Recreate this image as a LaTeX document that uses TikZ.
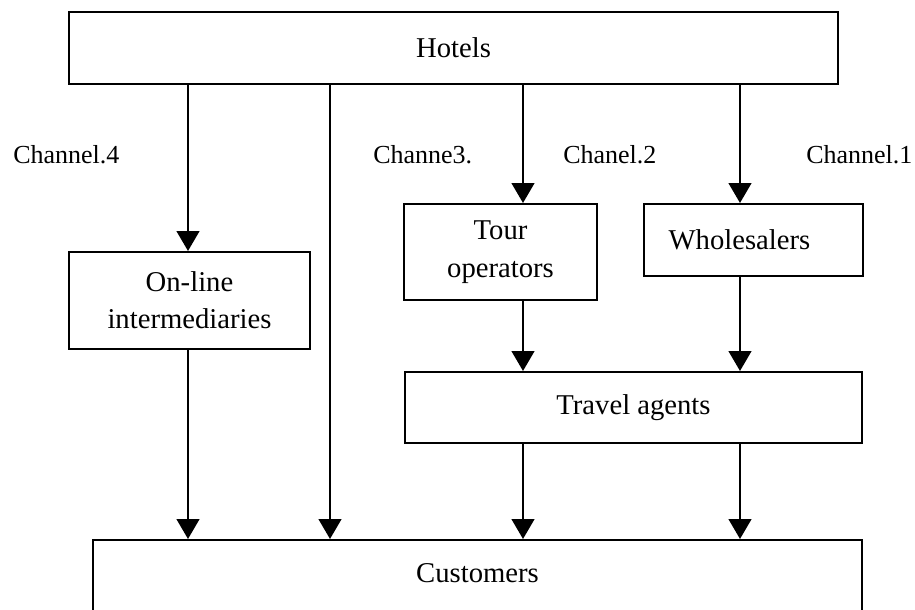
\documentclass[tikz,border=0pt]{standalone}
\usepackage{fontspec}
\setmainfont{Liberation Serif}
\usetikzlibrary{arrows.meta}
\begin{document}
\begin{tikzpicture}[x=0.75pt,y=-0.75pt,
  box/.style={draw=black, line width=1.5pt, inner sep=0pt, anchor=north west,
    align=center, font=\fontsize{21.5}{28}\selectfont},
  arr/.style={line width=1.9pt, -{Triangle[width=17pt,length=15pt]}},
  chan/.style={anchor=base west, inner sep=0pt, font=\fontsize{19.5}{24}\selectfont}]
\useasboundingbox[fill=white] (0,0) rectangle (915,610);

\node[box, minimum width=576.75pt, minimum height=54pt] (hotels) at (68,11) {Hotels};
\node[box, minimum width=180.75pt, minimum height=72.75pt] (online) at (68,251) {On-line\\intermediaries};
\node[box, minimum width=144.75pt, minimum height=72pt] (tour) at (403,203) {Tour\\operators};
\node[box, minimum width=164.25pt, minimum height=54pt] (whole) at (643,203) {Wholesalers\hspace*{21pt}};
\node[box, minimum width=342.75pt, minimum height=53.25pt] (travel) at (404,371) {Travel agents};
\node[box, minimum width=576.75pt, minimum height=60pt, text depth=11pt] (cust) at (92,539) {Customers};

\coordinate (xa) at (188,0);
\coordinate (xb) at (330,0);
\coordinate (xc) at (523,0);
\coordinate (xd) at (740,0);

\draw[arr] (hotels.south -| xa) -- (online.north -| xa);
\draw[arr] (hotels.south -| xb) -- (cust.north -| xb);
\draw[arr] (hotels.south -| xc) -- (tour.north -| xc);
\draw[arr] (hotels.south -| xd) -- (whole.north -| xd);
\draw[arr] (online.south -| xa) -- (cust.north -| xa);
\draw[arr] (tour.south -| xc) -- (travel.north -| xc);
\draw[arr] (whole.south -| xd) -- (travel.north -| xd);
\draw[arr] (travel.south -| xc) -- (cust.north -| xc);
\draw[arr] (travel.south -| xd) -- (cust.north -| xd);

\node[chan] (l4) at (13,163) {Channel.4};
\node[chan] (l3) at (373,163) {Channe3.};
\node[chan] (l2) at (563,163) {Chanel.2};
\node[chan] (l1) at (806,163) {Channel.1};
\end{tikzpicture}
\end{document}
